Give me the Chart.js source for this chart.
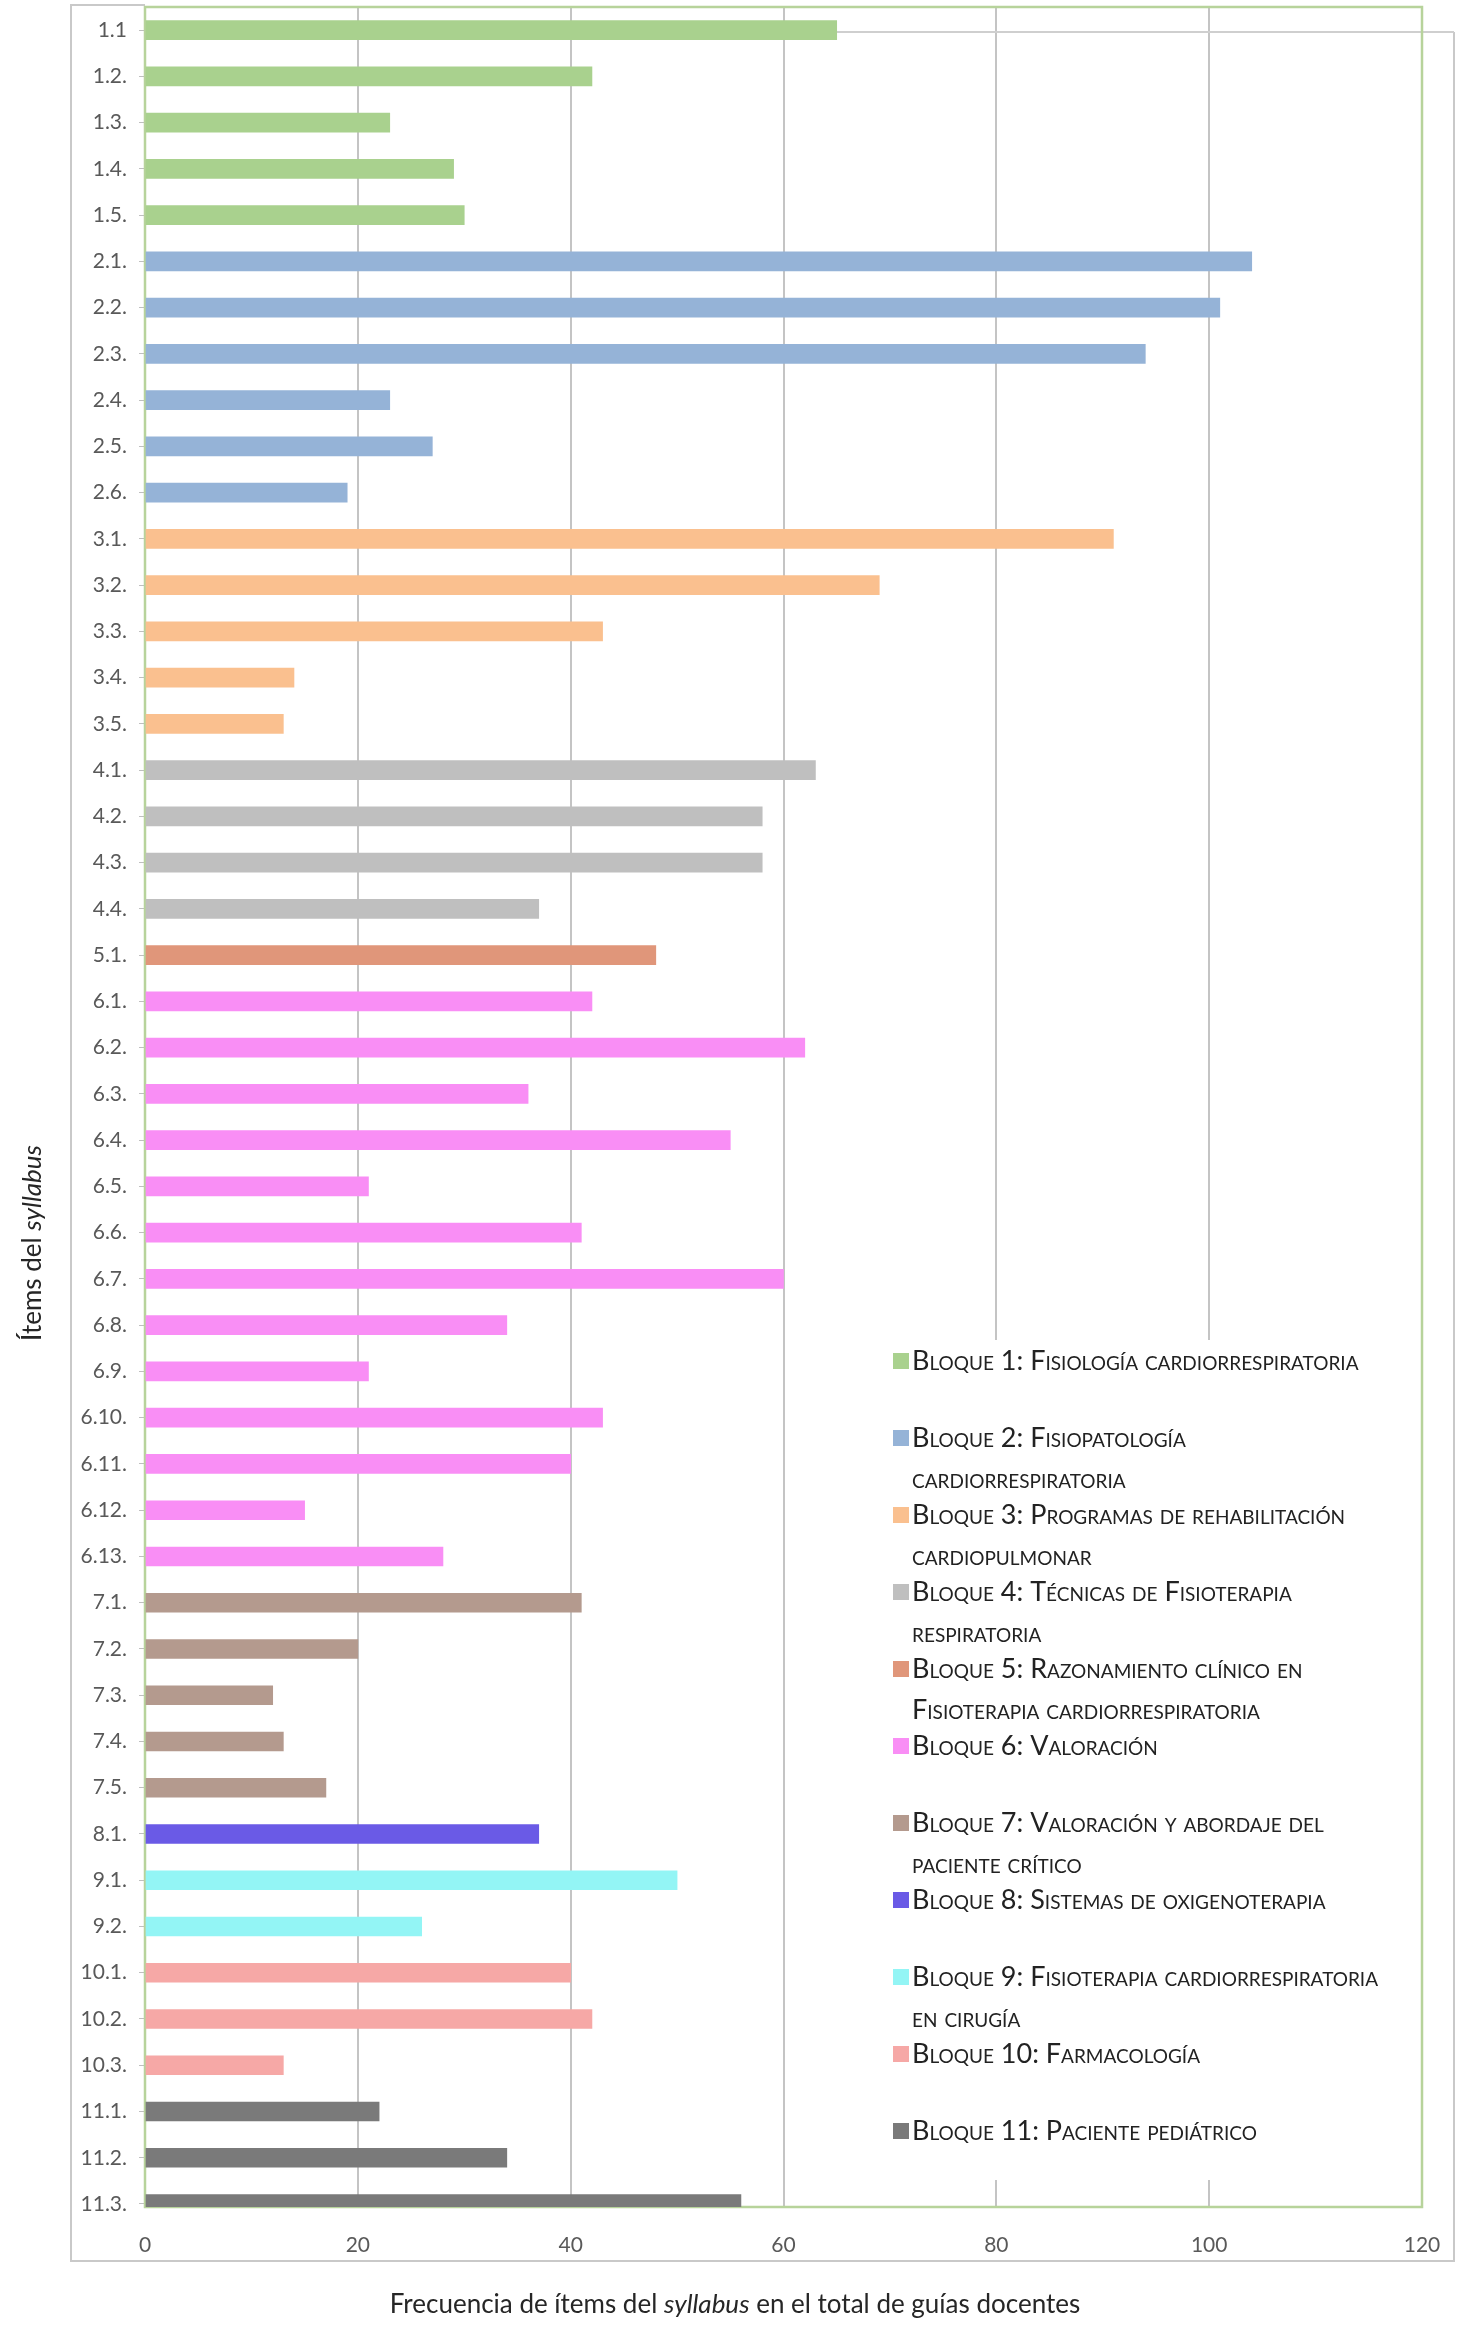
<!DOCTYPE html>
<html>
<head>
<meta charset="utf-8">
<script src="https://cdn.jsdelivr.net/npm/chart.js@4.4.1/dist/chart.umd.min.js"></script>
<style>
  html, body { margin: 0; padding: 0; background: #fff; }
  canvas { display: block; }
</style>
</head>
<body>
<canvas id="syllabusChart" width="1475" height="2337"></canvas>
<script>
// items of the syllabus, top to bottom
const itemLabels = [
    "1.1", "1.2.", "1.3.", "1.4.", "1.5.",
    "2.1.", "2.2.", "2.3.", "2.4.", "2.5.", "2.6.",
    "3.1.", "3.2.", "3.3.", "3.4.", "3.5.",
    "4.1.", "4.2.", "4.3.", "4.4.",
    "5.1.",
    "6.1.", "6.2.", "6.3.", "6.4.", "6.5.", "6.6.", "6.7.", "6.8.", "6.9.", "6.10.", "6.11.", "6.12.", "6.13.",
    "7.1.", "7.2.", "7.3.", "7.4.", "7.5.",
    "8.1.",
    "9.1.", "9.2.",
    "10.1.", "10.2.", "10.3.",
    "11.1.", "11.2.", "11.3."
];

// frequency of each item in the total of teaching guides
const itemValues = [
    65, 42, 23, 29, 30,
    104, 101, 94, 23, 27, 19,
    91, 69, 43, 14, 13,
    63, 58, 58, 37,
    48,
    42, 62, 36, 55, 21, 41, 60, 34, 21, 43, 40, 15, 28,
    41, 20, 12, 13, 17,
    37,
    50, 26,
    40, 42, 13,
    22, 34, 56
];

const blockNames = [
    "Bloque 1: Fisiología cardiorrespiratoria",
    "Bloque 2: Fisiopatología\ncardiorrespiratoria",
    "Bloque 3: Programas de rehabilitación\ncardiopulmonar",
    "Bloque 4: Técnicas de Fisioterapia\nrespiratoria",
    "Bloque 5: Razonamiento clínico en\nFisioterapia cardiorrespiratoria",
    "Bloque 6: Valoración",
    "Bloque 7: Valoración y abordaje del\npaciente crítico",
    "Bloque 8: Sistemas de oxigenoterapia",
    "Bloque 9: Fisioterapia cardiorrespiratoria\nen cirugía",
    "Bloque 10: Farmacología",
    "Bloque 11: Paciente pediátrico"
];

const blockColors = [
    "#a9d18e", "#95b3d7", "#fac08f", "#bfbfbf", "#e0967a", "#f98ef5",
    "#b49a8e", "#6a5ae6", "#93f5f5", "#f6a8a6", "#7a7a7a"
];

const xTicks = [0, 20, 40, 60, 80, 100, 120];

const xTitleParts = [["Frecuencia de ítems del ", false], ["syllabus", true], [" en el total de guías docentes", false]];
const yTitleParts = [["Ítems del ", false], ["syllabus", true]];

const FONT = "Lato, 'Open Sans', sans-serif";


function drawMixed(ctx, parts, size) {
    // parts drawn centered on 0,0
    let total = 0;
    const widths = parts.map(([txt, it]) => {
        ctx.font = `${it ? 'italic ' : ''}${size}px ${FONT}`;
        const w = ctx.measureText(txt).width;
        total += w;
        return w;
    });
    let x = -total / 2;
    parts.forEach(([txt, it], i) => {
        ctx.font = `${it ? 'italic ' : ''}${size}px ${FONT}`;
        ctx.fillText(txt, x, 0);
        x += widths[i];
    });
}


const framePlugin = {
    id: 'frame',
    beforeDraw(chart) {
        const ctx = chart.ctx;
        const a = chart.chartArea;
        ctx.save();
        ctx.strokeStyle = '#c9c9c9';
        ctx.lineWidth = 2;
        ctx.beginPath();
        ctx.moveTo(a.left, 5);
        ctx.lineTo(71, 5);
        ctx.lineTo(71, 2261);
        ctx.lineTo(1454, 2261);
        ctx.lineTo(1454, 32);
        ctx.stroke();
        ctx.restore();
    },
    beforeDatasetsDraw(chart) {
        const ctx = chart.ctx;
        const a = chart.chartArea;
        ctx.save();
        // outer frame top line runs across the plot, under the bars
        ctx.strokeStyle = '#cfcfcf';
        ctx.lineWidth = 2;
        ctx.beginPath();
        ctx.moveTo(a.left, 32);
        ctx.lineTo(1454, 32);
        ctx.stroke();
        // legend box hides the grid behind it
        ctx.fillStyle = '#fff';
        ctx.fillRect(870, 1340, a.right - 872, 840);
        ctx.strokeStyle = '#b7d39b';
        ctx.lineWidth = 2.5;
        ctx.strokeRect(a.left, a.top, a.right - a.left, a.bottom - a.top);
        ctx.restore();
    },
    afterDraw(chart) {
        const ctx = chart.ctx;
        ctx.save();
        ctx.fillStyle = '#262626';
        ctx.textBaseline = 'middle';
        ctx.translate(735, 2305);
        drawMixed(ctx, xTitleParts, 26);
        ctx.restore();

        ctx.save();
        ctx.fillStyle = '#262626';
        ctx.textBaseline = 'middle';
        ctx.translate(33, 1243);
        ctx.rotate(-Math.PI / 2);
        drawMixed(ctx, yTitleParts, 26);
        ctx.restore();

        // legend
        ctx.save();
        ctx.textBaseline = 'middle';
        ctx.font = `small-caps 27px ${FONT}`;
        blockNames.forEach((name, i) => {
            const y = 1361 + i * 77;
            ctx.fillStyle = blockColors[i];
            ctx.fillRect(893, y - 8, 16, 16);
            ctx.fillStyle = '#222';
            name.split('\n').forEach((line, j) => {
                ctx.fillText(line, 912, y + j * 41);
            });
        });
        ctx.restore();
    }
};


document.addEventListener('DOMContentLoaded', function () {
    const ctx = document.getElementById('syllabusChart').getContext('2d');

    const barColors = itemLabels.map(l => blockColors[parseInt(l) - 1]);

    new Chart(ctx, {
        type: 'bar',
        data: {
            datasets: [{
                data: itemValues.map((v, i) => ({ x: v, y: i })),
                backgroundColor: barColors,
                borderWidth: 0,
                barThickness: 19
            }]
        },
        options: {
            indexAxis: 'y',
            responsive: false,
            animation: false,
            devicePixelRatio: 1,
            layout: { padding: { left: 60, right: 53, top: 7, bottom: 70 } },
            plugins: {
                legend: { display: false },
                tooltip: { enabled: false }
            },
            scales: {
                x: {
                    type: 'linear',
                    min: 0,
                    max: 120,
                    afterBuildTicks: s => { s.ticks = xTicks.map(v => ({ value: v })); },
                    afterFit: s => { s.height = 60; },
                    border: { display: false },
                    grid: { color: '#c4c4c4', lineWidth: 2, drawTicks: false },
                    ticks: { padding: 26, color: '#595959', font: { family: FONT, size: 21 } }
                },
                y: {
                    type: 'linear',
                    reverse: true,
                    offset: false,
                    min: -0.5,
                    max: 47.065,
                    afterBuildTicks: s => { s.ticks = itemLabels.map((l, i) => ({ value: i })); },
                    afterFit: s => { s.width = 85; s.paddingTop = 0; s.paddingBottom = 0; },
                    border: { color: '#bfbfbf', width: 2 },
                    grid: { offset: false, drawOnChartArea: false, tickLength: 6, color: '#bfbfbf' },
                    ticks: {
                        autoSkip: false,
                        padding: 12,
                        color: '#595959',
                        font: { family: FONT, size: 21 },
                        callback: v => itemLabels[v]
                    }
                }
            }
        },
        plugins: [framePlugin]
    });
});
</script>
</body>
</html>
